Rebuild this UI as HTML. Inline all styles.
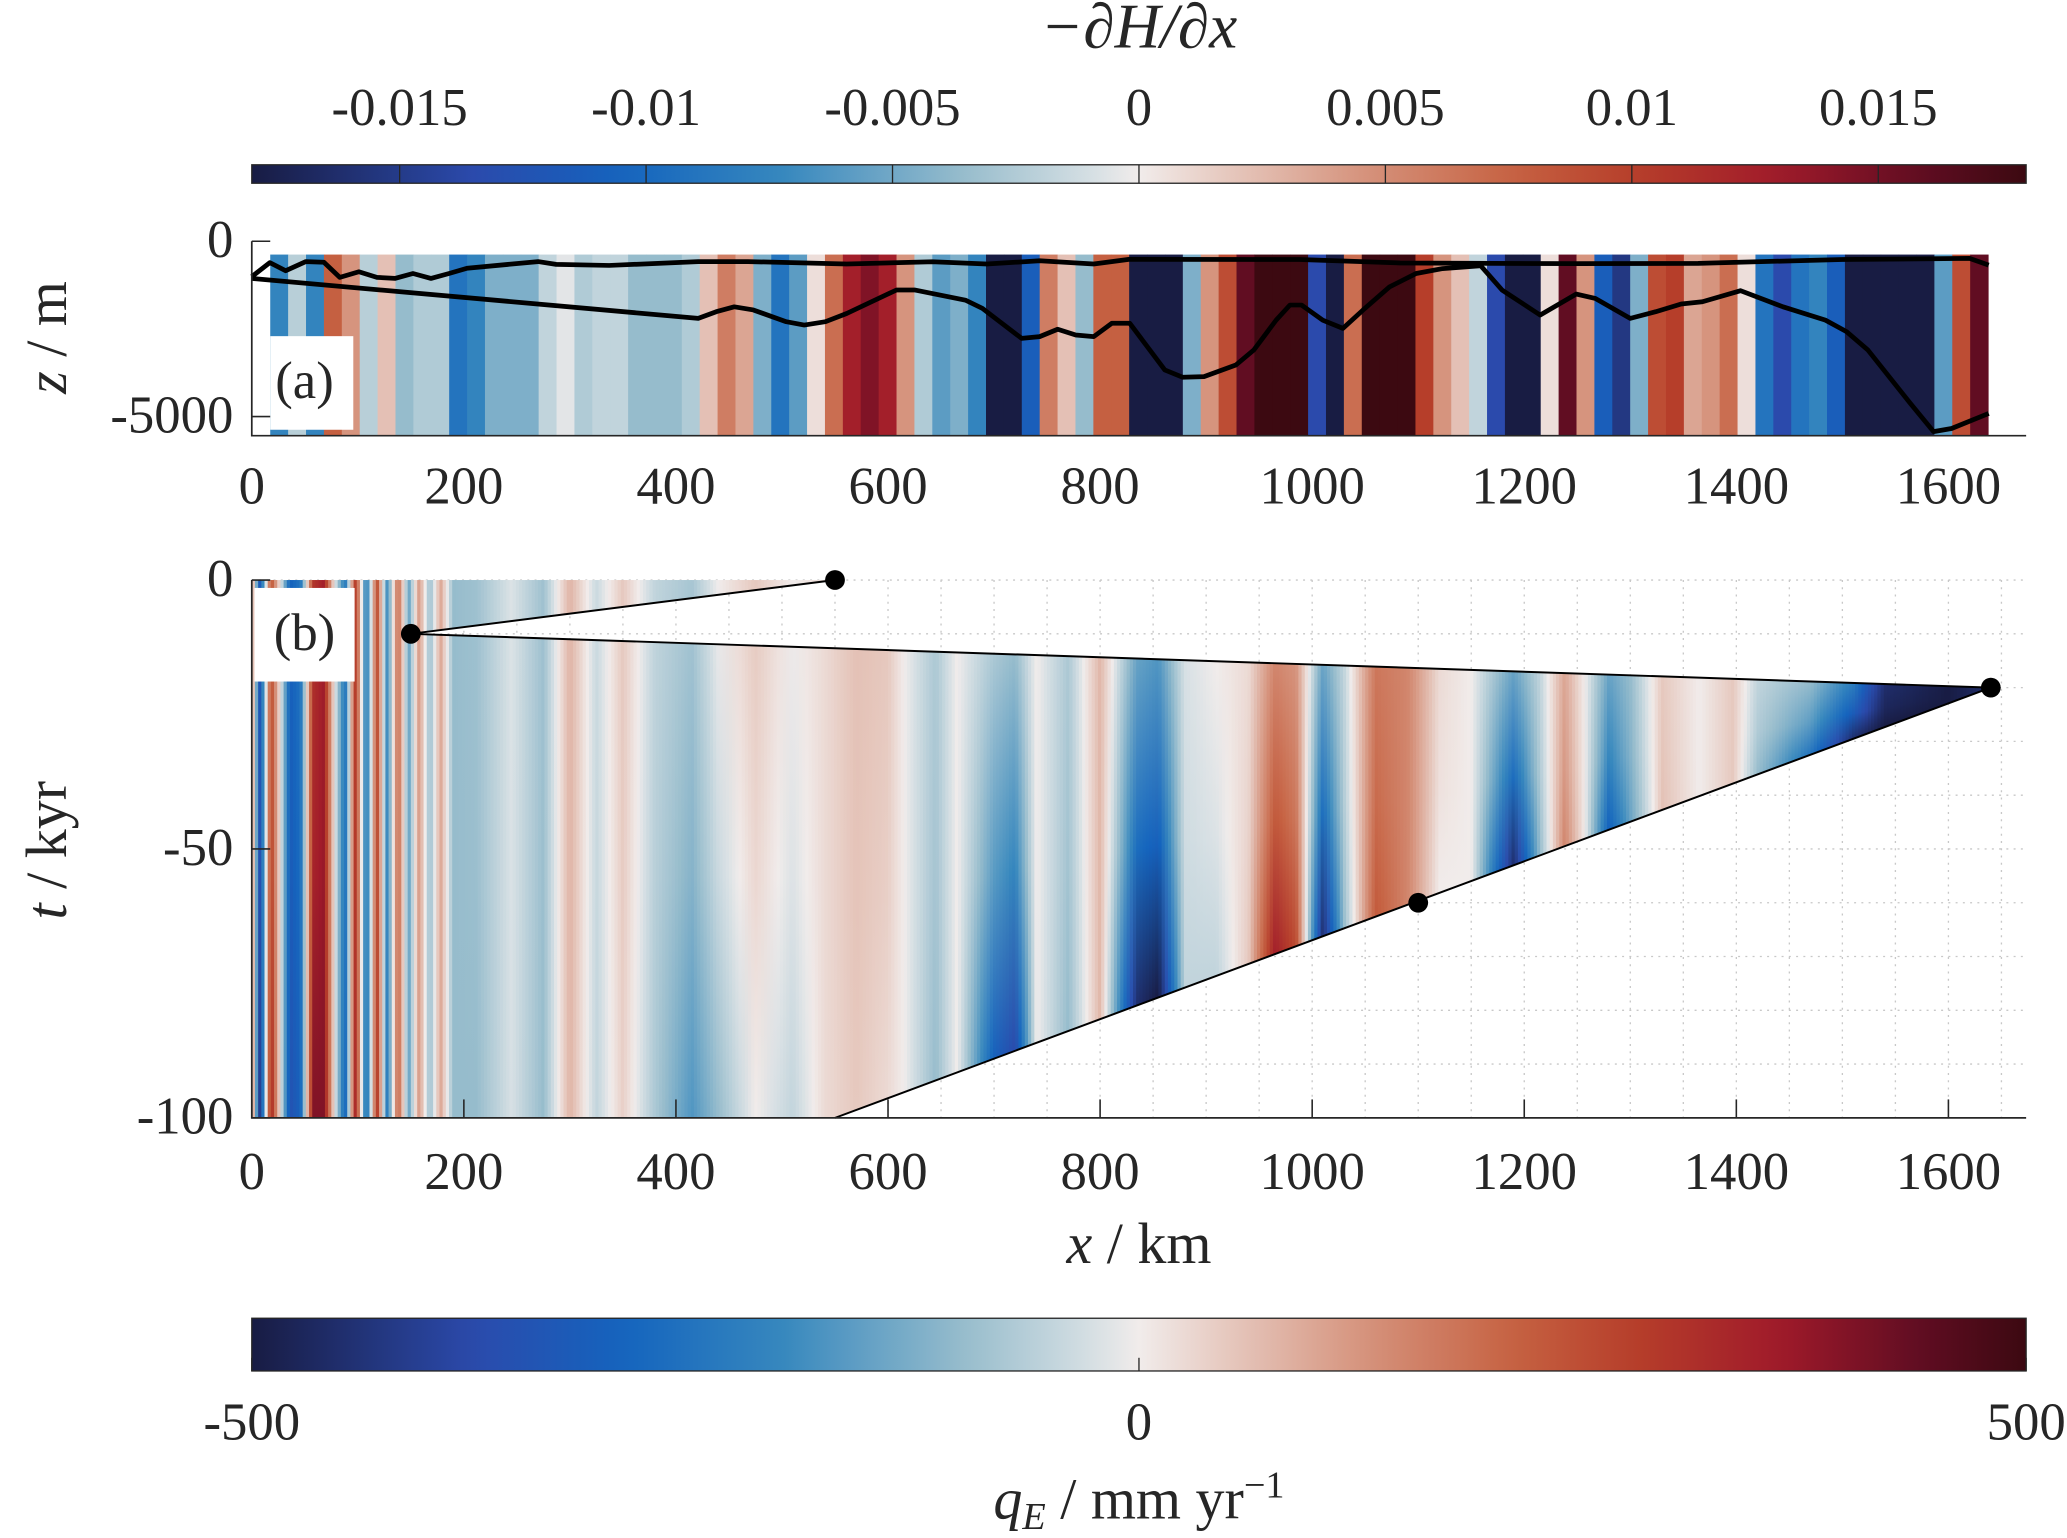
<!DOCTYPE html>
<html><head><meta charset="utf-8"><style>
html,body{margin:0;padding:0;background:#fff;}
svg{display:block;}
text{font-family:"Liberation Serif",serif;fill:#262626;}
</style></head><body>
<svg id="fig" width="2067" height="1538" viewBox="0 0 1568 1166.7" xmlns="http://www.w3.org/2000/svg">
<defs id="defs"></defs>
<g id="root"></g>
</svg>
<script>
// ---------- DATA ----------
// Panel (a): stripes of -dH/dx (units 1e-3), each 16.875 km wide starting at 17.4 km
const stripeStartKm = 17.4;
const stripeWidthKm = 16.875;
const stripeVals = [-7.6,-2.2,-7.6,7.7,4.5,-2.2,2.2,-3.6,-2.5,-2.5,-9,-7.6,-4.5,-4.5,-4.5,-1.8,-0.5,-2.5,-1.8,-1.8,
 -3.6,-3.6,-3.6,-2.5,2.2,5.9,3.6,-4.5,-9,-5.8,0.7,6.8,12.6,14.4,12.6,4.5,-2.5,-5.8,-4.5,-7.6,
 -18,-18,-11.2,5.9,2.2,-3.6,7.7,7.7,-18,-18,-18,-4.5,4.5,9,15.8,18,18,18,-13.5,-18,
 6.8,18,18,18,10.1,4.5,2.2,-1.8,-13.5,-18,-18,0.7,15.8,4.5,-11.2,-15.3,-4.5,9,10.1,3.6,
 4.5,6.8,0.7,-9,-13.5,-9,-7.6,-11.2,-18,-18,-18,-18,-18,-5.8,9,15.8];
// Upper line (km, z m)
const upperKm = [0,17,32,51,68,83,101,118,135,152,169,186,203,270,287,337,421,468,561,642,693,743,794,827,988,1083,1250,1364,1500,1620,1638];
const upperZ  = [-1010,-610,-840,-580,-600,-1030,-870,-1030,-1060,-920,-1060,-920,-770,-580,-660,-690,-580,-580,-650,-585,-650,-555,-650,-517,-520,-620,-640,-630,-520,-490,-680];
// Lower line (km, z m)
const lowerKm = [0,421,438,455,473,504,521,541,561,608,625,673,689,726,743,760,777,794,811,828,861,878,898,928,945,966,979,990,1010,1029,1048,1073,1098,1123,1159,1179,1215,1249,1267,1300,1324,1348,1368,1404,1444,1484,1504,1524,1564,1586,1603,1638];
const lowerZ  = [-1060,-2200,-2010,-1870,-1960,-2295,-2390,-2295,-2060,-1390,-1390,-1680,-1915,-2770,-2720,-2510,-2675,-2720,-2340,-2340,-3670,-3880,-3860,-3530,-3100,-2250,-1820,-1820,-2250,-2485,-1960,-1300,-920,-780,-700,-1390,-2105,-1505,-1630,-2200,-2010,-1790,-1725,-1410,-1870,-2250,-2580,-3100,-4620,-5430,-5340,-4910];
// Panel (b): qE (mm/yr) columns: position, value near upper boundary, value near lower boundary
const qKm   = [0,8,18,27,36,46,58,68,78,88,98,108,118,128,138,148,158,168,178,190,212,245,275,300,325,350,380,415,440,475,510,540,570,600,615,645,665,700,720,740,770,800,835,855,880,910,940,965,985,1010,1030,1060,1090,1120,1150,1190,1215,1238,1257,1280,1300,1330,1365,1397,1420,1470,1510,1540,1600,1640];
const qTop  = [150,-350,250,0,-300,-250,300,350,0,-250,300,-250,250,-200,200,-150,120,-100,100,-100,-90,-20,-90,80,-40,50,-50,-80,0,50,0,25,60,50,0,-75,0,-75,-100,0,-75,75,-150,-175,-25,0,25,150,125,-150,-50,175,150,25,0,-150,-50,100,0,-150,-100,50,0,50,-50,-100,-225,-450,-500,-450];
const qLow  = [200,-450,350,0,-350,-300,400,400,0,-300,350,-300,300,-250,220,-150,120,-100,100,-100,-100,-25,-100,80,-50,40,-75,-175,-100,0,-50,25,50,25,0,-100,0,-300,-375,0,-100,75,-450,-500,-50,-50,50,350,250,-450,-100,225,150,0,0,-450,-100,150,0,-300,-150,60,0,50,-100,-250,-450,-500,-500,-450];
// Boundary markers (km, kyr)
const markKm = [550,150,1640,1100];
const markT  = [0,-10,-20,-60];
// ticks
const xTicks = [0,200,400,600,800,1000,1200,1400,1600];
const zTicks = [0,-5000];
const tTicks = [0,-50,-100];
const cbTopTicks = [-0.015,-0.01,-0.005,0,0.005,0.01,0.015];
const cbTopLabels = ["-0.015","-0.01","-0.005","0","0.005","0.01","0.015"];
const cbBotTicks = [-500,0,500];

// ---------- SCALES ----------
const X = km => 191 + km*0.8044;
const Z = z => 183 + (-z)*0.0266;
const T = t => 440 + (-t)*4.08;
const NS="http://www.w3.org/2000/svg";
const root=document.getElementById('root');
const defs=document.getElementById('defs');
function mk(tag,attrs,parent){const e=document.createElementNS(NS,tag);for(const k in attrs)e.setAttribute(k,attrs[k]);(parent||root).appendChild(e);return e;}
const stops=[[-1,[24,28,67]],[-0.75,[43,74,172]],[-0.58,[20,100,190]],[-0.4,[55,136,190]],[-0.2,[150,188,204]],[-0.05,[215,224,228]],[0,[241,236,235]],[0.1,[230,200,190]],[0.25,[214,148,126]],[0.42,[198,98,66]],[0.56,[182,62,42]],[0.72,[160,26,42]],[0.88,[96,13,34]],[1,[60,9,17]]];
function cmap(v){v=Math.max(-1,Math.min(1,v));for(let i=1;i<stops.length;i++){if(v<=stops[i][0]){const a=stops[i-1],b=stops[i];const f=(v-a[0])/(b[0]-a[0]);const c=a[1].map((x,j)=>Math.round(x+(b[1][j]-x)*f));return `rgb(${c[0]},${c[1]},${c[2]})`;}}return 'rgb(60,9,17)';}
function interp(xs,ys,x){if(x<=xs[0])return ys[0];for(let i=1;i<xs.length;i++){if(x<=xs[i]){const f=(x-xs[i-1])/(xs[i]-xs[i-1]);return ys[i-1]+(ys[i]-ys[i-1])*f;}}return ys[ys.length-1];}

// ---------- TOP COLORBAR ----------
const gTop=mk('linearGradient',{id:'gTop',x1:'0',x2:'1',y1:'0',y2:'0'},defs);
for(let i=0;i<=40;i++){mk('stop',{offset:i/40,'stop-color':cmap(-1+2*i/40)},gTop);}
const cbt=mk('rect',{x:191,y:125,width:1346,height:14,fill:'url(#gTop)',stroke:'#262626','stroke-width':1});

const CT = v => 191 + (v+0.018)/0.036*1346;
cbTopTicks.forEach((v,i)=>{
  mk('line',{x1:CT(v),x2:CT(v),y1:125,y2:139,stroke:'#262626','stroke-width':1});
  const t=mk('text',{x:CT(v),y:95,'font-size':40,'text-anchor':'middle'});t.textContent=cbTopLabels[i];
  
});
const tt=mk('text',{x:864,y:36,'font-size':48,'text-anchor':'middle','font-style':'italic'});
tt.textContent='−∂H/∂x';


// ---------- PANEL A ----------
const pa=mk('g',{});

stripeVals.forEach((v,i)=>{
  const k0=stripeStartKm+i*stripeWidthKm;
  const r=mk('rect',{x:X(k0),y:Z(-380),width:X(k0+stripeWidthKm)-X(k0)+0.4,height:330.5-Z(-380),fill:cmap(v/18)},pa);
  
});
const lbA=mk('rect',{x:205,y:255,width:63,height:71,fill:'#fff'},pa);

const la=mk('text',{x:231,y:302,'font-size':40,'text-anchor':'middle'},pa);la.textContent='(a)';

const up=mk('polyline',{points:upperKm.map((k,i)=>X(k)+','+Z(upperZ[i])).join(' '),fill:'none',stroke:'#000','stroke-width':3.6,'stroke-linejoin':'round'},pa);

const lo=mk('polyline',{points:lowerKm.map((k,i)=>X(k)+','+Z(lowerZ[i])).join(' '),fill:'none',stroke:'#000','stroke-width':3.6,'stroke-linejoin':'round'},pa);

mk('path',{d:`M191,183 V330.5 H1537`,fill:'none',stroke:'#262626','stroke-width':1.3},pa);
zTicks.forEach(z=>{
  mk('line',{x1:191,x2:205,y1:Z(z),y2:Z(z),stroke:'#262626','stroke-width':1.2},pa);
  const t=mk('text',{x:177,y:Z(z)+12,'font-size':40,'text-anchor':'end'},pa);t.textContent=String(z);
  
});
xTicks.forEach(k=>{
  const t=mk('text',{x:X(k),y:382,'font-size':40,'text-anchor':'middle'},pa);t.textContent=String(k);
  
});
const zl=mk('text',{x:0,y:0,'font-size':44,'text-anchor':'middle',transform:'translate(50,256) rotate(-90)'},pa);
zl.innerHTML='<tspan font-style="italic">z</tspan> / m';


// ---------- PANEL B ----------
const pb=mk('g',{});

for(let k=0;k<=1650;k+=50){mk('line',{x1:X(k),x2:X(k),y1:440,y2:848,stroke:'#c8c8c8','stroke-width':1,'stroke-dasharray':'1.5,4'},pb);}
for(let t=0;t>=-100;t-=10){mk('line',{x1:191,x2:1537,y1:T(t),y2:T(t),stroke:'#c8c8c8','stroke-width':1,'stroke-dasharray':'1.5,4'},pb);}
const cp=mk('clipPath',{id:'maskB'},defs);
mk('polygon',{points:[[0,0],[550,0],[150,-10],[1640,-20],[550,-100],[0,-100]].map(p=>X(p[0])+','+T(p[1])).join(' ')},cp);
const hm=mk('g',{'clip-path':'url(#maskB)'},pb);

function lowerT(k){ if(k<=550) return -100; return -20-(1640-k)/(1640-550)*80; }
function upperT(k){ if(k<=550) return 0; return -10-(k-150)/(1640-150)*10; }
const dk=3;
for(let k=0;k<1641;k+=dk){
  const kc=k+dk/2;
  const vt=interp(qKm,qTop,kc)/500, vl=interp(qKm,qLow,kc)/500;
  const ytop=T(upperT(kc)), ybot=T(lowerT(kc));
  const gid='gc'+k;
  const g=mk('linearGradient',{id:gid,gradientUnits:'userSpaceOnUse',x1:0,x2:0,y1:ytop,y2:ybot},defs);
  mk('stop',{offset:0,'stop-color':cmap(vt)},g);
  mk('stop',{offset:0.55,'stop-color':cmap(vt*0.6+vl*0.4)},g);
  mk('stop',{offset:1,'stop-color':cmap(vl)},g);
  const r=mk('rect',{x:X(k),y:440,width:dk*0.8044+0.5,height:408,fill:`url(#${gid})`},hm);
  
}
const lbB=mk('rect',{x:193,y:446,width:76,height:71,fill:'#fff'},pb);

const lb=mk('text',{x:231,y:493,'font-size':40,'text-anchor':'middle'},pb);lb.textContent='(b)';

const bl=mk('polyline',{points:[0,1,2].map(i=>X(markKm[i])+','+T(markT[i])).join(' '),fill:'none',stroke:'#000','stroke-width':1.5},pb);

const bl2=mk('line',{x1:X(markKm[2]),y1:T(markT[2]),x2:X(550),y2:T(-100),stroke:'#000','stroke-width':1.5},pb);

markKm.forEach((k,i)=>{
  const c=mk('circle',{cx:X(k),cy:T(markT[i]),r:7.5,fill:'#000'},pb);
  
});
mk('path',{d:`M191,440 V848 H1537`,fill:'none',stroke:'#262626','stroke-width':1.3},pb);
xTicks.forEach(k=>{
  mk('line',{x1:X(k),x2:X(k),y1:848,y2:834,stroke:'#262626','stroke-width':1.2},pb);
  const t=mk('text',{x:X(k),y:902,'font-size':40,'text-anchor':'middle'},pb);t.textContent=String(k);
  
});
tTicks.forEach(t0=>{
  mk('line',{x1:191,x2:205,y1:T(t0),y2:T(t0),stroke:'#262626','stroke-width':1.2},pb);
  const t=mk('text',{x:177,y:T(t0)+12,'font-size':40,'text-anchor':'end'},pb);t.textContent=String(t0);
  
});
const tl=mk('text',{x:0,y:0,'font-size':44,'text-anchor':'middle',transform:'translate(50,645) rotate(-90)'},pb);
tl.innerHTML='<tspan font-style="italic">t</tspan> / kyr';

const xl=mk('text',{x:864,y:958,'font-size':44,'text-anchor':'middle'},pb);
xl.innerHTML='<tspan font-style="italic">x</tspan> / km';


// ---------- BOTTOM COLORBAR ----------
const gB=mk('linearGradient',{id:'gBot',x1:'0',x2:'1',y1:'0',y2:'0'},defs);
for(let i=0;i<=60;i++){mk('stop',{offset:i/60,'stop-color':cmap(-1+2*i/60)},gB);}
const cbb=mk('rect',{x:191,y:1000,width:1346,height:40,fill:'url(#gBot)',stroke:'#262626','stroke-width':1});

const CB = v => 191 + (v+500)/1000*1346;
cbBotTicks.forEach(v=>{
  mk('line',{x1:CB(v),x2:CB(v),y1:1040,y2:1030,stroke:'#262626','stroke-width':1});
  const t=mk('text',{x:CB(v),y:1092,'font-size':40,'text-anchor':'middle'});t.textContent=String(v);
  
});
const bt=mk('text',{x:864,y:1152,'font-size':44,'text-anchor':'middle'});
bt.innerHTML='<tspan font-style="italic">q</tspan><tspan font-style="italic" font-size="29" dy="8">E</tspan><tspan dy="-8"> / mm yr</tspan><tspan font-size="29" dy="-16">−1</tspan>';

</script>
</body></html>
